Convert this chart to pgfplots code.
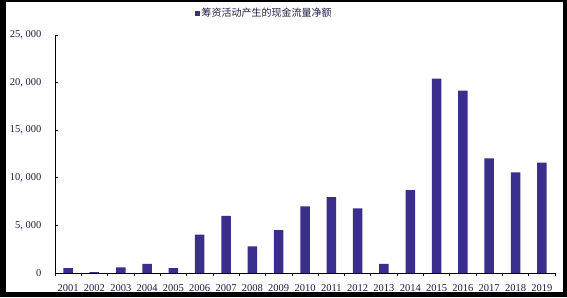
\documentclass[border=0pt]{standalone}
\usepackage{pgfplots}
\pgfplotsset{compat=1.18}
\usepackage{fontspec}
\setmainfont{Liberation Serif}
\newfontfamily\cjk{Noto Sans CJK SC}
\definecolor{barc}{RGB}{58,46,140}
\definecolor{lab}{RGB}{30,30,70}
\begin{document}
\begin{tikzpicture}[x=1pt,y=1pt]
\fill[black] (0,0) rectangle (567,297);
\fill[white] (6,5) rectangle (563,295);
\begin{axis}[
  at={(55pt,24pt)}, anchor=south west,
  scale only axis, width=500pt, height=238pt,
  axis x line*=bottom, axis y line*=left,
  axis line style={black, line width=0.8pt},
  xmin=-0.5, xmax=18.5, ymin=0, ymax=25000,
  ytick={0,5000,...,25000},
  scaled y ticks=false,
  y tick label style={xshift=-10pt, /pgf/number format/fixed, /pgf/number format/1000 sep={,\ }, /pgf/number format/assume math mode=true},
  tick label style={font=\fontsize{10.5}{12}\selectfont, text=lab},
  xticklabel style={yshift=-5pt},
  xtick={0,...,18},
  xticklabels={2001,2002,2003,2004,2005,2006,2007,2008,2009,2010,2011,2012,2013,2014,2015,2016,2017,2018,2019},
  major x tick style={draw=none},
  minor xtick={-0.5,0.5,...,18.5},
  tick align=inside,
  major tick length=3pt, minor tick length=3pt,
  tick style={black, line width=0.6pt},
  ybar, bar width=9.5pt,
  legend style={at={(0.418,1.092)}, anchor=center, draw=none, fill=none,
    font=\cjk\fontsize{10}{12}\selectfont, text=lab},
  legend image code/.code={\fill[barc] (0pt,-2.5pt) rectangle (5pt,2.5pt);},
]
\addplot[fill=barc, draw=none] coordinates {
(0,500) (1,100) (2,600) (3,950) (4,500) (5,4030) (6,6000) (7,2800) (8,4500)
(9,7000) (10,7980) (11,6800) (12,950) (13,8700) (14,20420) (15,19160)
(16,12050) (17,10580) (18,11600)};
\addlegendentry{筹资活动产生的现金流量净额}
\end{axis}
\end{tikzpicture}
\end{document}
